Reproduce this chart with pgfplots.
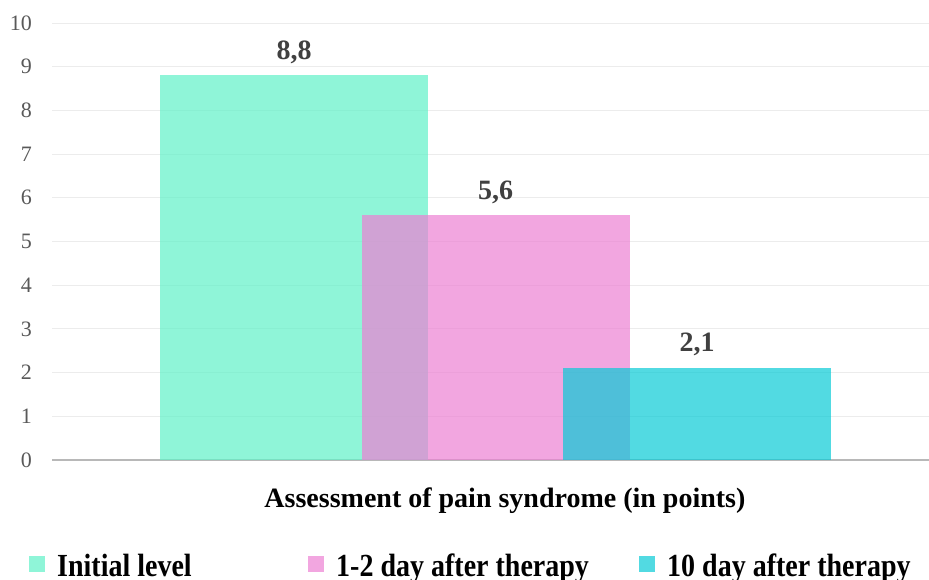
\documentclass[border=0pt]{standalone}
\usepackage{pgfplots}
\pgfplotsset{compat=1.18}
\usepackage{graphicx}
\usepackage{fontspec}
\setmainfont{Liberation Serif}
\definecolor{cmint}{RGB}{95,241,199}
\definecolor{cpink}{RGB}{236,128,211}
\definecolor{ccyan}{RGB}{8,202,214}
\definecolor{gridc}{RGB}{236,236,236}
\definecolor{tickc}{RGB}{89,89,89}
\definecolor{valc}{RGB}{64,64,64}
\begin{document}
\begin{tikzpicture}
\useasboundingbox (0,0) rectangle (929pt,580pt);
\begin{axis}[
  at={(52pt,120pt)}, anchor=south west,
  scale only axis, width=877pt, height=437pt,
  xmin=-0.201, xmax=4.151, ymin=0, ymax=10,
  ytick={0,1,...,10}, xtick=\empty,
  axis lines*=left,
  y axis line style={draw=none},
  x axis line style={draw=black!28, line width=1.3pt},
  ymajorgrids, major grid style={draw=gridc, line width=0.9pt},
  major tick length=0pt,
  /pgf/number format/assume math mode=true,
  /pgf/number format/use comma,
  /pgf/number format/fixed,
  /pgf/number format/precision=1,
  /pgf/number format/fixed zerofill,
  yticklabel style={anchor=east, inner sep=0pt, xshift=-20pt, font=\fontsize{22}{24}\selectfont, text=tickc,
    /pgf/number format/precision=0, /pgf/number format/fixed zerofill=false},
  xlabel={Assessment of pain syndrome (in points)},
  xlabel style={at={(axis description cs:0.5165,-0.1098)}, anchor=base, font=\fontsize{28}{32}\selectfont\bfseries, inner sep=0pt},
  legend columns=3,
  legend style={at={(axis description cs:-0.0262,-0.2701)}, anchor=south west, draw=none, fill=none, inner sep=0pt,
    font=\fontsize{28}{32}\selectfont\bfseries, nodes={inner sep=0pt},
    /tikz/every odd column/.append style={column sep=12pt}},
  legend image code/.code={\fill[#1] (0pt,-6pt) rectangle (16pt,10pt);},
  every node near coord/.append style={font=\fontsize{28}{32}\selectfont\bfseries, text=valc, inner sep=0pt, anchor=south, yshift=11.7pt},
]
\addplot[ybar, bar width=1.33, bar shift=0pt, draw=none, fill=cmint, fill opacity=0.7, text opacity=1, nodes near coords]
  coordinates {(1,8.8)};
\addlegendentry{\makebox[251pt][l]{\scalebox{1}[1.15]{Initial level}}}
\addplot[ybar, bar width=1.33, bar shift=0pt, draw=none, fill=cpink, fill opacity=0.7, text opacity=1, nodes near coords]
  coordinates {(2,5.6)};
\addlegendentry{\makebox[303pt][l]{\scalebox{1}[1.15]{1-2 day after therapy}}}
\addplot[ybar, bar width=1.33, bar shift=0pt, draw=none, fill=ccyan, fill opacity=0.7, text opacity=1, nodes near coords]
  coordinates {(3,2.1)};
\addlegendentry{\scalebox{1}[1.15]{10 day after therapy}}
\end{axis}
\end{tikzpicture}
\end{document}
